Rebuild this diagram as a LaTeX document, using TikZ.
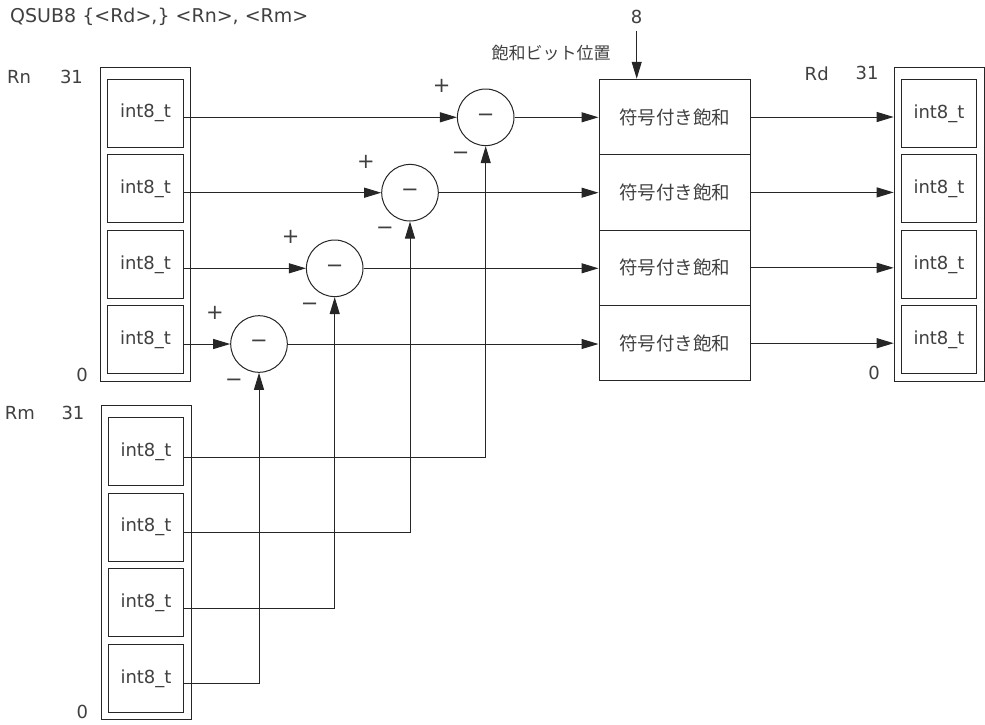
\documentclass[tikz,border=0pt]{standalone}
\usepackage{fontspec}
\setmainfont{DejaVu Sans}
\newfontfamily\jp{Noto Sans CJK JP}
\usetikzlibrary{arrows.meta}

\begin{document}
\begin{tikzpicture}[x=1pt,y=-1pt]
	\tikzstyle{every node}+=[inner sep=0pt, text=black!75, font=\fontsize{18}{21}\selectfont]
	\tikzstyle{reg}=[draw=black!85, line width=1pt, minimum width=90pt, minimum height=314pt]
	\tikzstyle{elem}=[draw=black!85, line width=1pt, minimum width=75.5pt, minimum height=68pt]
	\tikzstyle{diff}=[draw=black!85, line width=1pt, circle, minimum size=56.6pt, font=\fontsize{21}{24}\selectfont]
	\tikzstyle{sign}=[font=\fontsize{21}{24}\selectfont]
	\tikzstyle{sat}=[draw=black!85, line width=1pt, minimum width=151pt, minimum height=75.5pt, font=\jp\fontsize{18.5}{21}\selectfont]
	\tikzstyle{wire}=[draw=black!85, line width=1pt, -{Triangle[length=17pt,width=10pt]}]
	\useasboundingbox (0,0) rectangle (985,724);
	\node [anchor=west, font=\fontsize{19}{22}\selectfont] (title) at (10,16.7) {QSUB8 \{<Rd>,\} <Rn>, <Rm>};
	% Rn
	\node [reg] (rn) at (145.7,224.5) {};
	\node (rnname) at (19,76.7) {Rn};
	\node (rntop) at (71.5,76.7) {31};
	\node (rnbot) at (82,375) {0};
	\node [elem] (n1) at (145.5,113.2) {int8\_t};
	\node [elem] (n2) at (145.5,188.7) {int8\_t};
	\node [elem] (n3) at (145.5,264.3) {int8\_t};
	\node [elem] (n4) at (145.5,339.9) {int8\_t};
	% Rm
	\node [reg] (rm) at (146,562.9) {};
	\node (rmname) at (20,413) {Rm};
	\node (rmtop) at (73,413) {31};
	\node (rmbot) at (82.3,711.7) {0};
	\node [elem] (m1) at (146,451.5) {int8\_t};
	\node [elem] (m2) at (146,527.2) {int8\_t};
	\node [elem] (m3) at (146,602.8) {int8\_t};
	\node [elem] (m4) at (146,678.3) {int8\_t};
	% Rd
	\node [reg] (rd) at (939.2,224.7) {};
	\node (rdname) at (816.7,73.3) {Rd};
	\node (rdtop) at (867,73.3) {31};
	\node (rdbot) at (874,373) {0};
	\node [elem] (r1) at (939,113.3) {int8\_t};
	\node [elem] (r2) at (939,188.8) {int8\_t};
	\node [elem] (r3) at (939,264.3) {int8\_t};
	\node [elem] (r4) at (939,339.8) {int8\_t};
	% subtractors
	\node [diff] (d1) at (485.7,117.3) {−};
	\node [diff] (d2) at (410,192.7) {−};
	\node [diff] (d3) at (334.7,268.3) {−};
	\node [diff] (d4) at (259,344) {−};
	\node [sign] at ([xshift=-44pt,yshift=31pt]d1.center) {+};
	\node [sign] at ([xshift=-44pt,yshift=31pt]d2.center) {+};
	\node [sign] at ([xshift=-44pt,yshift=31pt]d3.center) {+};
	\node [sign] at ([xshift=-44pt,yshift=31pt]d4.center) {+};
	\node [sign] at ([xshift=-25pt,yshift=-38.5pt]d1.center) {−};
	\node [sign] at ([xshift=-25pt,yshift=-38.5pt]d2.center) {−};
	\node [sign] at ([xshift=-25pt,yshift=-38.5pt]d3.center) {−};
	\node [sign] at ([xshift=-25pt,yshift=-38.5pt]d4.center) {−};
	% saturation
	\node [sat] (s1) at (674.5,117) {符号付き飽和};
	\node [sat] (s2) at (674.5,192.4) {符号付き飽和};
	\node [sat] (s3) at (674.5,267.8) {符号付き飽和};
	\node [sat] (s4) at (674.5,343.2) {符号付き飽和};
	\node (bits) at (636.7,16.7) {8};
	\node [font=\jp\fontsize{17}{20}\selectfont] (bitpos) at (551,53.3) {飽和ビット位置};
	\draw [wire] ([yshift=-7pt]bits.south) -- (bits.south |- s1.north);
	% Rn to subtractors
	\draw [wire] (n1.east |- d1.west) -- (d1.west);
	\draw [wire] (n2.east |- d2.west) -- (d2.west);
	\draw [wire] (n3.east |- d3.west) -- (d3.west);
	\draw [wire] (n4.east |- d4.west) -- (d4.west);
	% Rm to subtractors
	\draw [wire] ([yshift=-5.5pt]m1.east) -| (d1.south);
	\draw [wire] ([yshift=-5.5pt]m2.east) -| (d2.south);
	\draw [wire] ([yshift=-5.5pt]m3.east) -| (d3.south);
	\draw [wire] ([yshift=-5.5pt]m4.east) -| (d4.south);
	% subtractors to saturation
	\draw [wire] (d1.east) -- (d1.east -| s1.west);
	\draw [wire] (d2.east) -- (d2.east -| s2.west);
	\draw [wire] (d3.east) -- (d3.east -| s3.west);
	\draw [wire] (d4.east) -- (d4.east -| s4.west);
	% saturation to Rd
	\draw [wire] (s1.east) -- (s1.east -| rd.west);
	\draw [wire] (s2.east) -- (s2.east -| rd.west);
	\draw [wire] (s3.east) -- (s3.east -| rd.west);
	\draw [wire] (s4.east) -- (s4.east -| rd.west);
\end{tikzpicture}
\end{document}
